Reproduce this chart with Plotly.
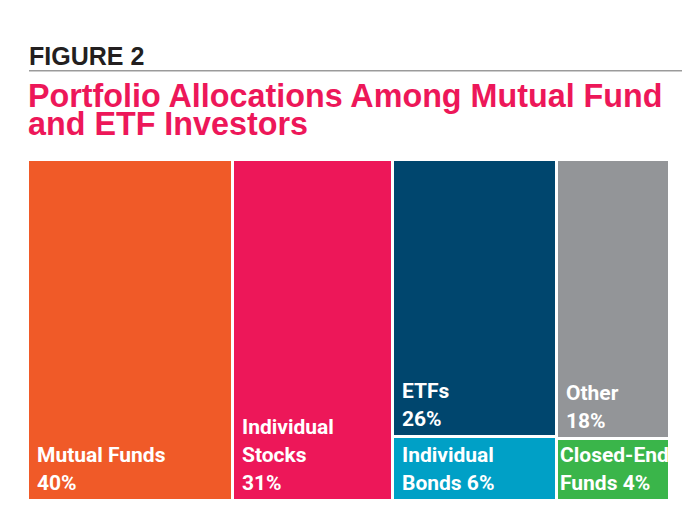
import plotly.graph_objects as go

# ---- data ----
labels = ["Mutual Funds|{v}%", "Individual|Stocks|{v}%", "ETFs|{v}%",
          "Individual|Bonds {v}%", "Other|{v}%", "Closed-End|Funds {v}%"]
values = [40, 31, 26, 6, 18, 4]
column = [0, 1, 2, 2, 3, 3]          # column of the tile (items listed top-to-bottom)
colors = ["#F05A28", "#ED1759", "#00466E", "#00A0C6", "#939598", "#3AB54A"]

title_top = "FIGURE 2"
title_lines = ["Portfolio Allocations Among Mutual Fund", "and ETF Investors"]

# ---- layout of tiles from data ----
col_ids = sorted(set(column))
col_total = {c: sum(v for v, cc in zip(values, column) if cc == c) for c in col_ids}
left = {}
acc = 0
for c in col_ids:
    left[c] = acc
    acc += col_total[c]
grand = acc

xs, ws, bases, hs = [], [], [], []
top = {c: 1.0 for c in col_ids}
for v, c in zip(values, column):
    h = v / col_total[c]
    b = max(0.0, round(top[c] - h, 9))
    top[c] = b
    xs.append(left[c] + col_total[c] / 2)
    ws.append(col_total[c])
    bases.append(b)
    hs.append(h)

W, H = 700, 532
ML, MR, MT, MB = 28, 16, 160, 31
X_END = 670                       # pixel where the last tile ends
px_per_unit = (X_END - ML) / grand
xmax = (W - ML - MR) / px_per_unit

fig = go.Figure()
fig.add_bar(x=xs, y=hs, base=bases, width=ws,
            marker=dict(color=colors, line=dict(color="white", width=3)),
            hoverinfo="skip")

FS = 21
box_font = dict(family="Roboto, sans-serif", size=FS, color="white", weight="bold")
for i, (v, c) in enumerate(zip(values, column)):
    lines = labels[i].format(v=v).split("|")
    n = len(lines)
    # keep the label inside its tile: shrink the left inset for narrow tiles
    tile_px = col_total[c] * px_per_unit - 3
    est_px = 0.505 * FS * max(len(s) for s in lines)
    xshift = max(1, min(7, (tile_px - est_px) / 2 - 1))
    for k, line in enumerate(lines):
        fig.add_annotation(x=left[c], y=bases[i], xref="x", yref="y", text=line,
                           xanchor="left", yanchor="bottom", xshift=xshift,
                           yshift=4 + (n - 1 - k) * 28, showarrow=False,
                           font=box_font)

# titles (positioned relative to top of plot area in pixels)
fig.add_annotation(x=0, y=1, xref="paper", yref="paper", text=title_top,
                   xanchor="left", yanchor="bottom", xshift=-1, yshift=MT - 72,
                   showarrow=False,
                   font=dict(family="Liberation Sans", size=25, color="#231F20", weight="bold"))
for k, t in enumerate(title_lines):
    fig.add_annotation(x=0, y=1, xref="paper", yref="paper", text=t,
                       xanchor="left", yanchor="bottom", xshift=-2,
                       yshift=MT - 116 - 28 * k, showarrow=False,
                       font=dict(family="Liberation Sans", size=32.3, color="#ED1759", weight="bold"))

pw = W - ML - MR
ph = H - MT - MB
fig.add_shape(type="line", xref="paper", yref="paper",
              x0=(29 - ML) / pw, x1=(682 - ML) / pw,
              y0=(H - MB - 70.7) / ph, y1=(H - MB - 70.7) / ph,
              line=dict(color="#9B9B9B", width=1.5))

fig.update_layout(
    width=W, height=H, margin=dict(l=ML, r=MR, t=MT, b=MB),
    paper_bgcolor="white", plot_bgcolor="white",
    barmode="overlay", bargap=0, showlegend=False,
    xaxis=dict(range=[0, xmax], visible=False, fixedrange=True),
    yaxis=dict(range=[0, 1], visible=False, fixedrange=True),
)

fig.write_html("out.html", config={"displayModeBar": False})
